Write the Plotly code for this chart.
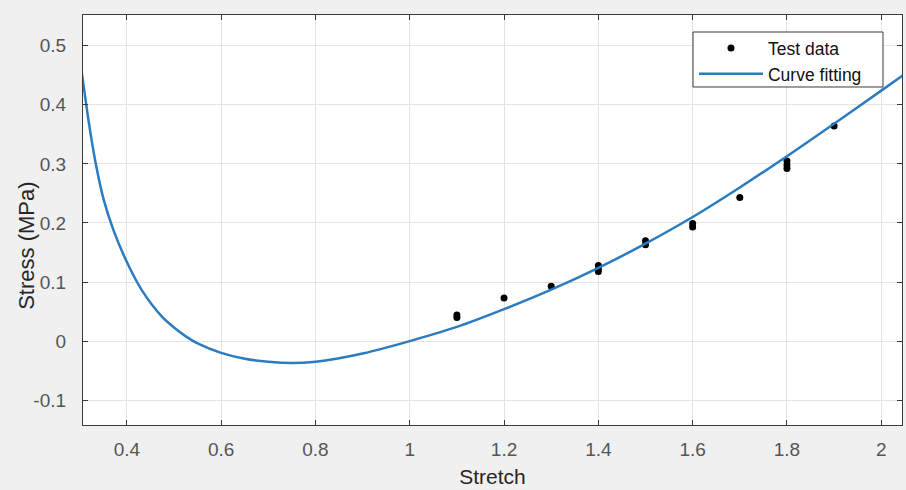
import plotly.graph_objects as go

# Test data (stretch, stress MPa)
test_stretch = [1.1, 1.1, 1.2, 1.3, 1.4, 1.4, 1.4, 1.5, 1.5, 1.6, 1.6, 1.7, 1.8, 1.8, 1.8, 1.9]
test_stress = [0.040, 0.044, 0.073, 0.093, 0.128, 0.122, 0.118, 0.170, 0.163, 0.199, 0.193, 0.243, 0.305, 0.298, 0.292, 0.364]

# Curve fitting
fit_stretch = [0.300, 0.305, 0.319, 0.333, 0.351, 0.372, 0.400, 0.432, 0.475, 0.500, 0.525, 0.550,
               0.600, 0.650, 0.700, 0.750, 0.800, 0.850, 0.900, 0.950, 1.000, 1.100, 1.200, 1.300,
               1.400, 1.500, 1.600, 1.700, 1.800, 1.900, 2.000, 2.050]
fit_stress = [0.480, 0.451, 0.372, 0.305, 0.239, 0.187, 0.134, 0.086, 0.041, 0.023, 0.008, -0.004,
              -0.020, -0.030, -0.035, -0.037, -0.035, -0.029, -0.021, -0.011, 0.000, 0.024, 0.054,
              0.087, 0.124, 0.165, 0.210, 0.260, 0.313, 0.368, 0.424, 0.452]

x_ticks = [0.4, 0.6, 0.8, 1, 1.2, 1.4, 1.6, 1.8, 2]
y_ticks = [-0.1, 0, 0.1, 0.2, 0.3, 0.4, 0.5]

x_title = "Stretch"
y_title = "Stress (MPa)"

fig = go.Figure()
fig.add_trace(go.Scatter(
    x=test_stretch, y=test_stress, mode="markers", name="Test data",
    marker=dict(color="black", size=7),
))
fig.add_trace(go.Scatter(
    x=fit_stretch, y=fit_stress, mode="lines", name="Curve fitting",
    line=dict(color="#2b7bc0", width=2.5, shape="spline", smoothing=0.8),
))

font_family = "Liberation Sans, Arial, sans-serif"
axis_common = dict(
    showgrid=True, gridcolor="#e3e3e3", gridwidth=1,
    showline=True, linecolor="#3a3a3a", linewidth=1.2, mirror="allticks",
    ticks="inside", ticklen=5, tickcolor="#3a3a3a",
    zeroline=False, automargin=False,
    tickfont=dict(family=font_family, size=19, color="#555555"),
)

fig.update_layout(
    width=906, height=490,
    margin=dict(l=83, r=4, t=15, b=65),
    paper_bgcolor="#f0f0f0", plot_bgcolor="white",
    font=dict(family=font_family, color="#333333"),
    xaxis=dict(
        range=[0.307, 2.044], tickvals=x_ticks,
        ticktext=[("%g" % v) for v in x_ticks],
        title=dict(text=x_title, font=dict(size=21, color="#262626"), standoff=10),
        ticklabelstandoff=7,
        **axis_common,
    ),
    yaxis=dict(
        range=[-0.142, 0.552], tickvals=y_ticks,
        ticktext=[("%g" % v) for v in y_ticks],
        ticklabelstandoff=12,
        **axis_common,
    ),
    annotations=[dict(
        text=y_title, textangle=-90, xref="paper", yref="paper",
        x=-0.0684, y=0.437, xanchor="center", yanchor="middle", showarrow=False,
        font=dict(family=font_family, size=22, color="#262626"),
    )],
    # legend frame (drawn as a box so it can be wider than the entries)
    shapes=[dict(
        type="rect", xref="paper", yref="paper",
        x0=0.7448, x1=0.9768, y0=0.8244, y1=0.9585,
        fillcolor="white", line=dict(color="#3a3a3a", width=1), layer="above",
    )],
    legend=dict(
        x=0.746, y=0.963, xanchor="left", yanchor="top",
        bgcolor="rgba(0,0,0,0)", borderwidth=0,
        font=dict(family=font_family, size=17.5, color="#111111"),
        itemwidth=64, tracegroupgap=0,
    ),
    showlegend=True,
)

fig.write_html(
    "out.html",
    config={"displayModeBar": False},
    post_script="document.body.style.margin='0px';document.body.style.background='#f0f0f0';",
)
